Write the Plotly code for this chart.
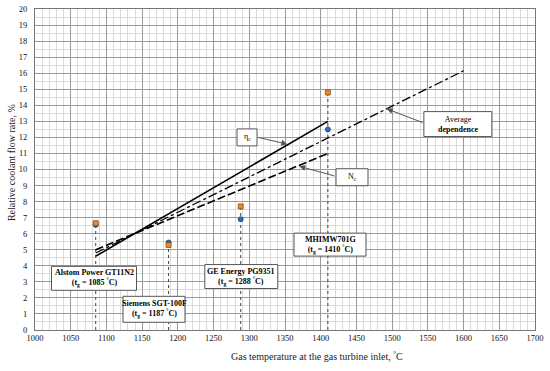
import plotly.graph_objects as go

# ---- data ----
eta_x = [1085, 1410]
eta_y = [4.6, 13.0]
nc_x = [1085, 1410]
nc_y = [5.0, 11.0]
avg_x = [1085, 1600]
avg_y = [4.8, 16.15]

turb_t = [1085, 1187, 1288, 1410]
orange_vals = [6.65, 5.3, 7.7, 14.8]
blue_vals = [6.55, 5.45, 6.9, 12.5]
turb_names = ["Alstom Power GT11N2", "Siemens SGT-100F", "GE Energy PG9351", "MHIMW701G"]

x_ticks = list(range(1000, 1701, 50))
y_ticks = list(range(0, 21, 1))

FONT = "Liberation Serif, DejaVu Serif, Times New Roman, serif"
fig = go.Figure()

# dotted verticals from points to axis
for t, o, b in zip(turb_t, orange_vals, blue_vals):
    fig.add_trace(go.Scatter(x=[t, t], y=[0, max(o, b)], mode="lines",
                             line=dict(color="#444", width=1, dash="dot"),
                             showlegend=False, hoverinfo="skip"))

fig.add_trace(go.Scatter(x=eta_x, y=eta_y, mode="lines",
                         line=dict(color="black", width=1.6), showlegend=False))
fig.add_trace(go.Scatter(x=nc_x, y=nc_y, mode="lines",
                         line=dict(color="black", width=1.6, dash="8px,3px"), showlegend=False))
fig.add_trace(go.Scatter(x=avg_x, y=avg_y, mode="lines",
                         line=dict(color="black", width=1.3, dash="dashdot"), showlegend=False))

fig.add_trace(go.Scatter(x=turb_t, y=blue_vals, mode="markers",
                         marker=dict(symbol="circle", size=5, color="#2a6fbf",
                                     line=dict(color="#1a3f70", width=0.8)),
                         showlegend=False))
fig.add_trace(go.Scatter(x=turb_t, y=orange_vals, mode="markers",
                         marker=dict(symbol="square", size=5, color="#f08a24",
                                     line=dict(color="#7a4a20", width=0.8)),
                         showlegend=False))

# boxes: (center x, center y, width px, height px, text)
px_per_x = 500 / 700.0
px_per_y = 321.5 / 20.0
boxes = [
    (1082.6, 3.22, 85, 24, "<b>Alstom Power GT11N2</b><br><b>(t<sub>g</sub> = 1085 <sup>°</sup>C)</b>"),
    (1166.6, 1.29, 62, 26, "<b>Siemens SGT-100F</b><br><b>(t<sub>g</sub> = 1187 <sup>°</sup>C)</b>"),
    (1288.8, 3.33, 73, 24, "<b>GE Energy PG9351</b><br><b>(t<sub>g</sub> = 1288 <sup>°</sup>C)</b>"),
    (1413.0, 5.32, 72, 23, "<b>MHIMW701G</b><br><b>(t<sub>g</sub> = 1410 <sup>°</sup>C)</b>"),
    (1296.8, 12.0, 20, 17, "η<sub>c</sub>"),
    (1443.8, 9.52, 32, 17, "N<sub>c</sub>"),
    (1592.0, 12.83, 68, 25, "Average<br><b>dependence</b>"),
]
for cx, cy, w, h, txt in boxes:
    dx = w / 2 / px_per_x
    dy = h / 2 / px_per_y
    fig.add_shape(type="rect", x0=cx - dx, x1=cx + dx, y0=cy - dy, y1=cy + dy,
                  xref="x", yref="y", layer="above",
                  line=dict(color="#555", width=1), fillcolor="white")
    fig.add_annotation(x=cx, y=cy, text=txt, showarrow=False,
                       xanchor="center", yanchor="middle",
                       font=dict(family=FONT, size=8, color="black"))

# arrows: (head x, head y, tail x, tail y)
arrows = [
    (1353.2, 11.58, 1310.3, 12.02),
    (1370.0, 10.2, 1421.4, 9.57),
    (1492.4, 13.78, 1544.6, 12.89),
]
for hx, hy, tx, ty in arrows:
    fig.add_annotation(x=hx, y=hy, ax=tx, ay=ty, xref="x", yref="y",
                       axref="x", ayref="y", text="", showarrow=True,
                       arrowhead=2, arrowsize=1.2, arrowwidth=1, arrowcolor="#555")

fig.add_annotation(x=0.564, y=-0.082, xref="paper", yref="paper",
                   xanchor="center", yanchor="middle",
                   text="Gas temperature at the gas turbine inlet, <sup>°</sup>C",
                   showarrow=False, font=dict(family=FONT, size=10, color="#222"))
fig.add_annotation(x=-0.048, y=0.52, xref="paper", yref="paper", textangle=-90,
                   xanchor="center", yanchor="middle",
                   text="Relative coolant flow rate, %",
                   showarrow=False, font=dict(family=FONT, size=10, color="#222"))

fig.update_xaxes(range=[1000, 1700], tickvals=x_ticks, ticktext=[str(v) for v in x_ticks],
                 showgrid=True, gridcolor="#9a9a9a", gridwidth=1,
                 minor=dict(dtick=10, showgrid=True, gridcolor="#dadada", gridwidth=1),
                 showline=True, linecolor="#777", mirror=True, zeroline=False,
                 ticks="", tickfont=dict(family=FONT, size=8.5, color="#111"))
fig.update_yaxes(range=[0, 20], tickvals=y_ticks, ticktext=[str(v) for v in y_ticks],
                 showgrid=True, gridcolor="#9a9a9a", gridwidth=1,
                 minor=dict(dtick=0.5, showgrid=True, gridcolor="#dadada", gridwidth=1),
                 showline=True, linecolor="#777", mirror=True, zeroline=False,
                 ticks="", ticklabelstandoff=5,
                 tickfont=dict(family=FONT, size=8.5, color="#111"))

fig.update_layout(width=550, height=371, margin=dict(l=35, r=15, t=9, b=40.5, autoexpand=False),
                  plot_bgcolor="white", paper_bgcolor="white", showlegend=False)

fig.write_html("out.html", config={"displayModeBar": False},
               post_script="document.body.style.margin='0';document.body.style.padding='0';")
